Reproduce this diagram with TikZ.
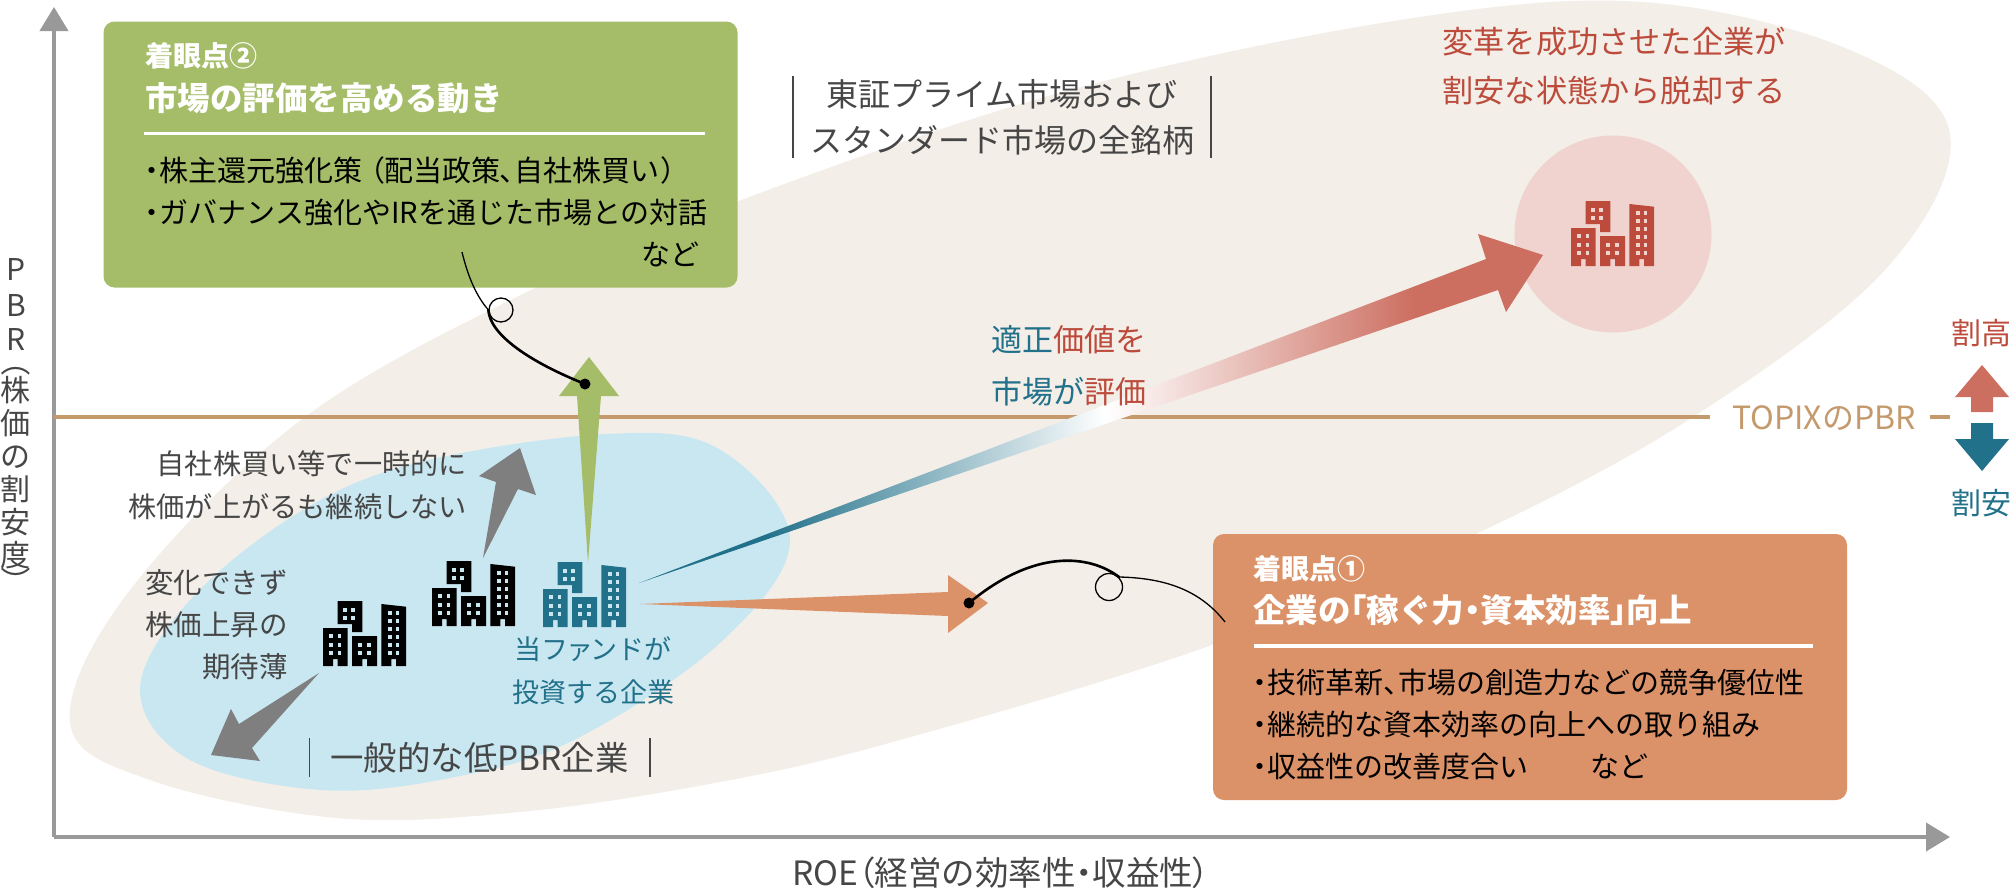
\documentclass[tikz,border=0pt]{standalone}
\usepackage{fontspec}
\usepackage{xcolor}
\usepackage{graphicx}
\setmainfont{Noto Sans CJK JP}
\newfontfamily\pfont[RawFeature={+palt}]{Noto Sans CJK JP}
\usetikzlibrary{arrows.meta,calc}

\definecolor{blobbeige}{HTML}{F3EEE8}
\definecolor{lowblue}{HTML}{C9E7F1}
\definecolor{pinkdisc}{HTML}{F0D3CF}
\definecolor{fundteal}{HTML}{22718A}
\definecolor{upred}{HTML}{CC6E60}
\definecolor{redtext}{HTML}{BC4B3C}
\definecolor{topixtan}{HTML}{C49A6C}
\definecolor{boxgreen}{HTML}{A5BD68}
\definecolor{boxorange}{HTML}{DC9268}
\definecolor{axisgrey}{HTML}{999999}
\definecolor{fatgrey}{HTML}{7F7F7F}
\definecolor{inkgrey}{HTML}{464646}

\pgfdeclarehorizontalshading{valuefade}{100bp}{color(0bp)=(fundteal); color(32bp)=(fundteal);
  color(50.8bp)=(white); color(68bp)=(upred); color(100bp)=(upred)}

\newcommand{\jpsize}[2]{\fontsize{#1}{#2}\selectfont}
\newcommand{\pp}[1]{{\pfont #1}}

\tikzset{
  pics/bldg/.style 2 args={code={
    \fill[#1] (14.6,-65) -- (39.3,-65) -- (39.3,-34) -- (29,-34) -- (29,-42) -- (14.6,-42) -- cycle;
    \fill[#1] (0,0) -- (0,-38) -- (24.5,-38) -- (24.5,0) -- (14.7,0) -- (14.7,-7) -- (10,-7) -- (10,0) -- cycle;
    \fill[#1] (29,0) -- (29,-30) -- (54,-30) -- (54,0) -- (44,0) -- (44,-7) -- (39.3,-7) -- (39.3,0) -- cycle;
    \fill[#1] (58.3,0) -- (58.3,-62) -- (83,-59.3) -- (83,0) -- (73,0) -- (73,-7) -- (68.3,-7) -- (68.3,0) -- cycle;
    % windows
    \foreach \wx in {19.7,28.3} \foreach \wy in {46,54.5} \fill[#2] (\wx,-\wy) rectangle +(3.8,-3.8);
    \foreach \wx in {6,14.5} \foreach \wy in {11,19.3,28} \fill[#2] (\wx,-\wy) rectangle +(3.6,-3.6);
    \foreach \wx in {35,44} \foreach \wy in {11,19.3} \fill[#2] (\wx,-\wy) rectangle +(3.6,-3.6);
    \foreach \wx in {65,72.8} \foreach \wy in {11,19,27,35,43,51} \fill[#2] (\wx,-\wy) rectangle +(3.6,-3.6);
  }}
}

\begin{document}
\begin{tikzpicture}[x=1pt,y=-1pt,
    lbl/.style={inner sep=0pt, align=center, text=inkgrey},
    rlbl/.style={inner sep=0pt, align=right, text=inkgrey, font=\jpsize{28.2}{43}},
    bigbox/.style={rounded corners=11pt, minimum width=634pt, minimum height=266pt, inner sep=0pt},
    boxhead/.style={inner sep=0pt, anchor=west, text=white, font=\jpsize{32.5}{40}\bfseries},
    boxtag/.style={inner sep=0pt, anchor=west, text=white, font=\jpsize{28}{32}\bfseries},
    boxbody/.style={inner sep=0pt, anchor=west, align=left, text=black, font=\jpsize{29}{42}},
    boxrule/.style={white, line width=3.6pt},
    bar/.style={inkgrey, line width=1.6pt},
    hand/.style={black, line width=1.3pt},
    handthick/.style={black, line width=2.6pt, line cap=round},
    handloop/.style={circle, draw=black, line width=1.3pt, minimum size=24pt, inner sep=0pt},
    dotend/.style={circle, fill=black, minimum size=11pt, inner sep=0pt},
    axisline/.style={axisgrey, line width=4pt, -{Triangle[length=24pt,width=28pt]}},
  ]
  \useasboundingbox (0,0) rectangle (2013,889);

  % backgrounds
  \fill[blobbeige] plot[smooth cycle, tension=0.6] coordinates {(70,722) (130,590) (305,417) (537,287)
    (760,193) (1070,90) (1400,20) (1642,2) (1850,50) (1950,134) (1885,270) (1693,417) (1476,534)
    (1212,645) (900,740) (720,782) (520,812) (337,818) (150,780)};
  \fill[lowblue] plot[smooth cycle, tension=0.6] coordinates {(140,690) (190,600) (298,513) (416,463)
    (606,434) (719,449) (790,540) (720,643) (574,740) (450,778) (321,790) (190,760)};
  \node[circle, fill=pinkdisc, minimum size=197pt, inner sep=0pt] (topdisc) at (1613,234) {};

  % axes and the market line
  \coordinate (origin) at (54,837);
  \coordinate (ytip) at (54,7);
  \coordinate (xtip) at (1950,837);
  \draw[axisline] (origin) -- (ytip);
  \draw[axisline] (origin) -- (xtip);
  \node[lbl, text=topixtan, font=\jpsize{32}{35}] (topix) at (1824,418) {TOPIXのPBR};
  \coordinate (linestart) at (54,417);
  \coordinate (lineend) at (1710,417);
  \coordinate (stubstart) at (1930,417);
  \coordinate (stubend) at (1950,417);
  \draw[topixtan, line width=4pt] (linestart) -- (lineend);
  \draw[topixtan, line width=4pt] (stubstart) -- (stubend);

  % buildings
  \pic at (323,666) {bldg={black}{lowblue}};
  \pic at (432,626) {bldg={black}{lowblue}};
  \pic at (543,627) {bldg={fundteal}{lowblue}};
  \pic at (1571,266) {bldg={redtext}{pinkdisc}};

  % fat arrows
  \coordinate (uptail) at (483,558);
  \coordinate (uptip) at (520,448);
  \fill[fatgrey] (uptail) -- (496,482) -- (479,476) -- (uptip) -- (536,495) -- (518,489) -- cycle;
  \coordinate (downtail) at (319,673);
  \coordinate (downtip) at (211,755);
  \fill[fatgrey] (downtail) -- (239,724) -- (231,709) -- (downtip) -- (260,761) -- (252,748) -- cycle;
  \coordinate (greentail) at (588,563);
  \coordinate (greentip) at (589,357);
  \fill[boxgreen] (greentail) -- (577,396) -- (559,396) -- (greentip) -- (619,396) -- (601,396) -- cycle;
  \coordinate (orangetail) at (640,604);
  \coordinate (orangetip) at (988,603);
  \fill[boxorange] (orangetail) -- (948,592) -- (948,575) -- (orangetip) -- (948,633) -- (948,616) -- cycle;
  \coordinate (fadetail) at (639,583);
  \coordinate (fadetip) at (1543,255);
  \shade[shading=valuefade] (fadetail) -- (1486,259) -- (1478,234) -- (fadetip) -- (1506,312) -- (1498,290) -- cycle;

  % up and down keys
  \fill[upred] (1982,365) -- (2009,397) -- (1993,397) -- (1993,412) -- (1971,412) -- (1971,397) -- (1955,397) -- cycle;
  \fill[fundteal] (1982,471) -- (2009,439) -- (1993,439) -- (1993,423) -- (1971,423) -- (1971,439) -- (1955,439) -- cycle;
  \node[lbl, text=redtext, font=\jpsize{30}{36}] (dear) at (1981,333) {割高};
  \node[lbl, text=fundteal, font=\jpsize{30}{36}] (cheap) at (1981,503) {割安};

  % axis labels
  \node[lbl, font=\jpsize{30}{33}] (ylabel) at (16,422)
    {P\\[3pt]B\\[1pt]R\\[-4pt]\rotatebox[origin=c]{-90}{\pp{（}}\\[-11pt]株\\価\\の\\割\\安\\度\\[-13pt]\rotatebox[origin=c]{-90}{\pp{）}}};
  \node[lbl, font=\jpsize{33.5}{38}] (xlabel) at (1001,873) {ROE\pp{（}経営の効率性\pp{・}収益性\pp{）}};

  % free labels
  \node[lbl, minimum width=418pt, minimum height=82pt, font=\jpsize{32}{46}] (allstock) at (1002,117)
    {東証プライム市場および\\スタンダード市場の全銘柄};
  \draw[bar] (allstock.north west) -- (allstock.south west);
  \draw[bar] (allstock.north east) -- (allstock.south east);

  \node[lbl, minimum width=340pt, minimum height=39pt, font=\jpsize{33.4}{38}] (lowpbr) at (479.5,757.5)
    {一般的な低PBR企業};
  \draw[bar] (lowpbr.north west) -- (lowpbr.south west);
  \draw[bar] (lowpbr.north east) -- (lowpbr.south east);

  \node[lbl, text=redtext, font=\jpsize{31.2}{49}] (success) at (1614,66)
    {変革を成功させた企業が\\割安な状態から脱却する};
  \node[lbl, font=\jpsize{31}{52}] (fairvalue) at (1069,366)
    {\textcolor{fundteal}{適正}\textcolor{redtext}{価値を}\\\textcolor{fundteal}{市場が}\textcolor{redtext}{評価}};
  \node[rlbl, anchor=east] (buyback) at (467,485) {自社株買い等で一時的に\\株価が上がるも継続しない};
  \node[rlbl, anchor=east, font=\jpsize{28.5}{42}] (stuck) at (288,625) {変化できず\\株価上昇の\\期待薄};
  \node[lbl, text=fundteal, font=\jpsize{27}{43}] (fundpick) at (593,671) {当フ\pp{ァ}ンドが\\投資する企業};

  % focus box two
  \node[bigbox, fill=boxgreen] (greenbox) at (420.5,154.5) {};
  \node[boxtag] (greentag) at (145,56) {着眼点②};
  \node[boxhead] (greenhead) at (145,98) {市場の評価を高める動き};
  \draw[boxrule] ($(greenbox.north west)+(41,112)$) -- ($(greenbox.north east)+(-33,112)$);
  \node[boxbody] (greenbody) at (145,191) {\pp{・}株主還元強化策\kern7pt\pp{（}配当政策\pp{、}自社株買い\kern2pt\pp{）}\\\pp{・}ガバナンス強化やIRを通じた市場との対話};
  \node[boxbody, anchor=east] (greenetc) at (700,254) {など};

  % focus box one
  \node[bigbox, fill=boxorange] (orangebox) at (1530,667) {};
  \node[boxtag] (orangetag) at (1253,569) {着眼点①};
  \node[boxhead] (orangehead) at (1253,610) {企業の\pp{「}稼ぐ力\pp{・}資本効率\pp{」}向上};
  \draw[boxrule] ($(orangebox.north west)+(41,112)$) -- ($(orangebox.north east)+(-34,112)$);
  \node[boxbody] (orangebody) at (1253,724.5) {\pp{・}技術革新\pp{、}市場の創造力などの競争優位性\\\pp{・}継続的な資本効率の向上への取り組み\\\pp{・}収益性の改善度合い};
  \node[boxbody, anchor=west] (orangeetc) at (1590,766) {など};

  % hand drawn pointers
  \coordinate (greenstart) at (462,252);
  \node[handloop] (greenloop) at (501,310) {};
  \node[dotend] (greendot) at (585,384) {};
  \draw[hand] (greenstart) .. controls (470,285) and (480,300) .. (greenloop.west);
  \draw[handthick] (greenloop.west) .. controls (490,335) and (530,362) .. (greendot.center);

  \coordinate (orangestart) at (1225,622);
  \node[handloop, minimum size=27pt] (orangeloop) at (1109,587) {};
  \node[dotend] (orangedot) at (969,603) {};
  \draw[hand] (orangestart) .. controls (1200,590) and (1165,578) .. (orangeloop.north east);
  \draw[handthick] (orangeloop.north east) .. controls (1090,555) and (1035,548) .. (orangedot.center);
\end{tikzpicture}
\end{document}
